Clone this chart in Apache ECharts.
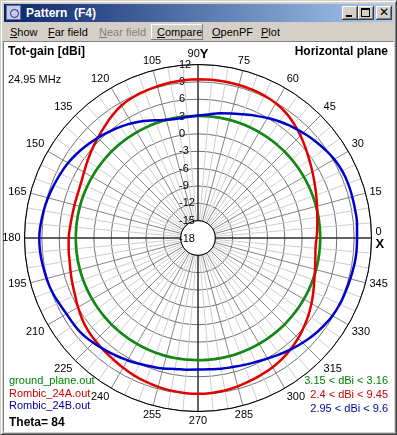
<!DOCTYPE html>
<html><head><meta charset="utf-8">
<script src="https://cdn.jsdelivr.net/npm/echarts@6/dist/echarts.min.js"></script>
<style>
html,body{margin:0;padding:0;}
body{width:397px;height:435px;overflow:hidden;position:relative;background:#d4d0c8;font-family:"Liberation Sans",Arial,sans-serif;}
#frame{position:absolute;left:0;top:0;width:395px;height:433px;border:1px solid;border-color:#d4d0c8 #404040 #404040 #d4d0c8;box-shadow:inset 1px 1px 0 #fff, inset -1px -1px 0 #808080;}
#titlebar{position:absolute;left:4px;top:4px;width:389px;height:18px;background:linear-gradient(to right,#0a246a,#a6caf0);}
#ttext{position:absolute;left:22px;top:2px;color:#fff;font-weight:bold;font-size:12px;white-space:pre;}
#icon{position:absolute;left:2px;top:1px;width:15px;height:15px;background:#c8c8e8;border:1px solid #6070a0;box-sizing:border-box;}
#icon:before{content:"";position:absolute;left:3px;top:3px;width:7px;height:7px;border:1px solid #203080;border-radius:50%;}
.btn{position:absolute;top:6px;width:16px;height:14px;background:#d4d0c8;box-shadow:inset -1px -1px 0 #404040, inset 1px 1px 0 #fff, inset -2px -2px 0 #808080;}
.mi{position:absolute;top:26px;font-size:11px;color:#000;white-space:pre;}
#cmp{position:absolute;left:151px;top:24px;width:52px;height:16px;box-shadow:inset -1px -1px 0 #808080, inset 1px 1px 0 #fff;}
#client{position:absolute;left:3px;top:41px;width:389px;height:389px;background:#fff;border:1px solid;border-color:#808080 #fff #fff #808080;}
#chart{position:absolute;left:0;top:0;width:397px;height:435px;}
</style></head>
<body>
<div id="frame"></div>
<div id="titlebar"><div id="icon"></div><div id="ttext">Pattern  (F4)</div></div>
<div class="btn" style="left:342px"><div style="position:absolute;left:4px;top:9px;width:6px;height:2px;background:#000"></div></div>
<div class="btn" style="left:358px"><div style="position:absolute;left:3px;top:2px;width:7px;height:6px;border:1px solid #000;border-top-width:2px"></div></div>
<div class="btn" style="left:376px"><div style="position:absolute;left:3px;top:-1px;font:bold 12px 'DejaVu Sans';line-height:14px">✕</div></div>
<div id="cmp"></div>
<div class="mi" style="left:10px"><u>S</u>how</div>
<div class="mi" style="left:48px"><u>F</u>ar field</div>
<div class="mi" style="left:99px;color:#808080"><u>N</u>ear field</div>
<div class="mi" style="left:157px"><u>C</u>ompare</div>
<div class="mi" style="left:212px"><u>O</u>penPF</div>
<div class="mi" style="left:261px"><u>P</u>lot</div>
<div id="client"></div>
<div id="chart"></div>
<script>
// ---- data (dBi) ----
const angles = [0,5,10,15,20,25,30,35,40,45,50,55,60,65,70,75,80,85,
  90,95,100,105,110,115,120,125,130,135,140,145,150,155,160,165,170,175,
  180,185,190,195,200,205,210,215,220,225,230,235,240,245,250,255,260,265,
  270,275,280,285,290,295,300,305,310,315,320,325,330,335,340,345,350,355];
const groundPlane = [3.15,3.15,3.16,3.16,3.16,3.15,3.15,3.15,3.16,3.16,3.15,3.15,3.15,3.16,3.16,3.16,3.15,3.15,
  3.15,3.15,3.16,3.16,3.16,3.15,3.15,3.15,3.16,3.16,3.15,3.15,3.15,3.16,3.16,3.16,3.15,3.15,
  3.15,3.15,3.16,3.16,3.16,3.15,3.15,3.15,3.16,3.16,3.15,3.15,3.15,3.16,3.16,3.16,3.15,3.15,
  3.15,3.15,3.16,3.16,3.16,3.15,3.15,3.15,3.16,3.16,3.15,3.15,3.15,3.16,3.16,3.16,3.15,3.15];
const rombic24A = [2.5,2.7,2.95,3.3,3.75,4.25,4.85,5.5,6.25,7.05,7.8,8.45,8.9,9.15,9.3,9.4,9.45,9.45,
  9.45,9.4,9.3,9.15,9.0,8.8,8.45,7.85,7.15,6.5,5.9,5.3,4.75,4.35,4.15,4.1,4.1,4.2,
  4.35,4.45,4.55,4.8,5.1,5.45,5.95,6.45,6.85,7.1,7.35,7.6,7.9,8.2,8.45,8.65,8.8,8.9,
  8.95,8.9,8.75,8.55,8.3,8.05,7.8,7.45,7.0,6.5,5.9,5.3,4.65,4.0,3.4,2.95,2.6,2.4];
const rombic24B = [9.5,9.6,9.6,9.6,9.6,9.5,9.2,8.75,8.25,7.7,7.15,6.6,5.95,5.35,4.75,4.3,3.9,3.45,
  3.2,3.0,2.95,3.15,3.65,4.3,4.9,5.45,5.95,6.5,7.0,7.5,7.95,8.25,8.55,8.85,9.1,9.3,
  9.45,9.4,9.25,9.1,8.9,8.55,8.25,8.15,7.98,7.6,7.2,6.8,6.4,6.0,5.65,5.35,5.0,4.85,
  4.75,4.8,4.95,5.1,5.35,5.65,6.05,6.55,7.1,7.6,8.1,8.5,8.85,9.05,9.15,9.25,9.4,9.5];
const seriesNames = ['ground_plane.out','Rombic_24A.out','Rombic_24B.out'];
const rangeTexts = ['3.15 < dBi < 3.16','2.4 < dBi < 9.45','2.95 < dBi < 9.6'];
const colors = ['#108a10','#e00000','#0000cc'];
const textColors = ['#008000','#d00000','#0000a0'];
const dbMin = -18, dbInner = -15, dbMax = 12, dbStep = 3;
const angleStep = 15;

// build closed polar loops starting at the top (90°)
function loop(vals){
  const pts = [];
  const start = angles.indexOf(90);
  for (let k = 0; k < angles.length; k++){
    const i = (start + k) % angles.length;
    const a = angles[i] < 90 ? angles[i] + 360 : angles[i];
    pts.push([vals[i], a]);
  }
  pts.push([vals[start], 450]);
  return pts;
}
const font = '"Liberation Sans", Arial, sans-serif';
const chart = echarts.init(document.getElementById('chart'));
const C = [198, 238], R = 173.5, pxPerDb = R / (dbMax - dbMin);
const option = {
  animation: false,
  polar: { center: C, radius: [pxPerDb * (dbInner - dbMin), R] },
  angleAxis: {
    type: 'value', min: 90, max: 450, interval: angleStep, startAngle: 90, clockwise: false,
    axisLine: { show: true, lineStyle: { color: '#000', width: 1 } },
    axisTick: { show: false },
    minorTick: { show: false, splitNumber: 3 },
    splitLine: { show: true, lineStyle: { color: '#858585', width: 1 } },
    minorSplitLine: { show: true, lineStyle: { color: '#cdcdcd', width: 1 } },
    axisLabel: {
      margin: 4, color: '#000', fontSize: 11, fontFamily: font,
      formatter: function (v) {
        if (v === 450) return '';
        const d = v % 360;
        if (d === 90) return '{n|90}{b|Y}';
        if (d === 0) return '{n|0}\n{b|X}';
        return String(d);
      },
      rich: {
        n: { fontSize: 11, fontFamily: font, color: '#000', lineHeight: 12 },
        b: { fontWeight: 'bold', fontSize: 13, fontFamily: font, color: '#000', lineHeight: 13 }
      }
    }
  },
  radiusAxis: {
    type: 'value', min: dbInner, max: dbMax, interval: dbStep,
    axisLine: { show: false }, axisTick: { show: false },
    splitLine: { show: true, lineStyle: { color: '#707070', width: 1 } },
    axisLabel: { margin: 19, align: 'left', verticalAlign: 'middle', color: '#000', fontSize: 11, fontFamily: font,
      showMaxLabel: true, showMinLabel: true }
  },
  legend: {
    orient: 'vertical', left: 3, top: 374, padding: 0, itemGap: 0, itemWidth: 1, itemHeight: 14,
    icon: 'none', selectedMode: false,
    textStyle: { fontSize: 11, fontFamily: font },
    data: seriesNames.map((n, i) => ({ name: n, textStyle: { color: textColors[i] } }))
  },
  series: [
    { name: 'axisY', type: 'line', coordinateSystem: 'polar', silent: true, clip: false, symbol: 'none', z: 1,
      lineStyle: { color: '#000', width: 1 }, data: [[dbMax, 90], [dbMin, 90], [dbMax, 270]] },
    { name: 'axisX', type: 'line', coordinateSystem: 'polar', silent: true, clip: false, symbol: 'none', z: 1,
      lineStyle: { color: '#000', width: 1 }, data: [[dbMax, 180], [dbMin, 180], [dbMax, 360]] }
  ].concat([groundPlane, rombic24A, rombic24B].map((vals, i) => ({
    name: seriesNames[i], type: 'line', coordinateSystem: 'polar', symbol: 'none', smooth: true, z: 3 + i,
    lineStyle: { color: colors[i], width: 2.5 }, itemStyle: { color: colors[i] }, data: loop(vals)
  }))),
  graphic: [
    { type: 'text', left: 8, top: 46, style: { text: 'Tot-gain [dBi]', font: 'bold 12px ' + font, fill: '#000' } },
    { type: 'text', right: 9, top: 46, style: { text: 'Horizontal plane', font: 'bold 12px ' + font, fill: '#000' } },
    { type: 'text', left: 8, top: 74, style: { text: '24.95 MHz', font: '11px ' + font, fill: '#000' } },
    { type: 'text', left: 9, top: 417, style: { text: 'Theta= 84', font: 'bold 12px ' + font, fill: '#000' } },
    // label of the centre ring (-18 dB) at the pole
    { type: 'text', z: 10, style: { x: C[0] - 19, y: C[1] + 1, text: String(dbMin), align: 'left', verticalAlign: 'middle',
      textAlign: 'left', textVerticalAlign: 'middle', font: '11px ' + font, fill: '#000' } }
  ].concat(rangeTexts.map((t, i) => ({
    type: 'text', right: 9, top: 375 + i * 14, style: { text: t, font: '11px ' + font, fill: textColors[i] }
  })))
};
chart.setOption(option);
</script>
</body></html>
